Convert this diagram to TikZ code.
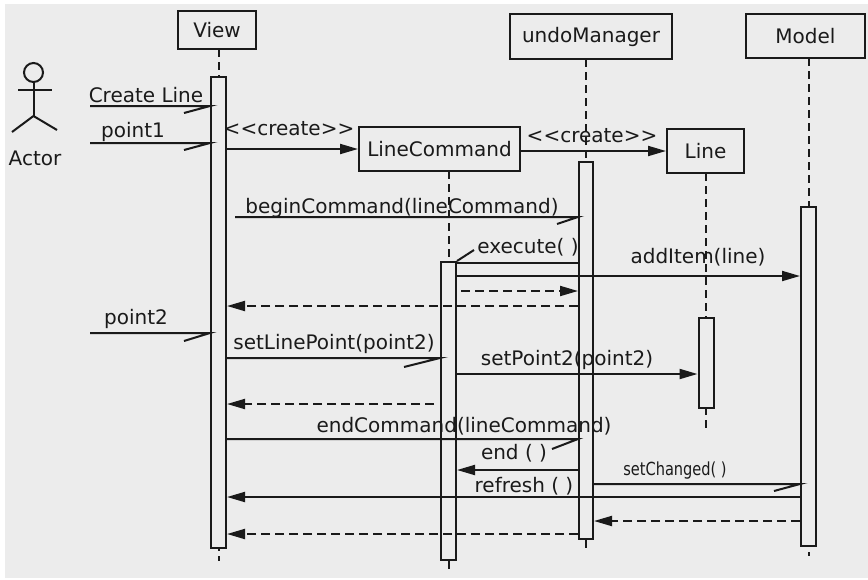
\documentclass[tikz,border=0pt]{standalone}
\usepackage{fontspec}
\setmainfont{DejaVu Sans}
\newfontfamily\condfont{DejaVu Sans Condensed}
\usetikzlibrary{arrows.meta}
\definecolor{bg}{HTML}{ECECEC}
\definecolor{ink}{HTML}{1A1A1A}
\begin{document}
\begin{tikzpicture}[x=1pt,y=-1pt,
  every node/.style={font=\fontsize{20}{22}\selectfont, text=ink, inner sep=0pt},
  objbox/.style={draw=ink, line width=2pt, fill=bg, inner sep=0pt},
  lifeline/.style={draw=ink, line width=2pt, dash pattern=on 8pt off 5pt},
  actbar/.style={draw=ink, line width=2pt, fill=bg},
  msg/.style={draw=ink, line width=2pt},
  call/.style={msg, -{Triangle[length=18pt,width=10pt]}},
  ret/.style={msg, dash pattern=on 9pt off 5pt, -{Triangle[length=18pt,width=10pt]}},
  lbl/.style={anchor=base},
  small/.style={anchor=base, xscale=0.9, font=\condfont\fontsize{18}{20}\selectfont}
]
\useasboundingbox (0,0) rectangle (868,579);
\fill[white] (0,0) rectangle (868,579);
\fill[bg] (5,4) rectangle (868,578);

% object boxes
\node[objbox, minimum width=78pt, minimum height=38pt] (view) at (217,30) {View};
\node[objbox, minimum width=162pt, minimum height=45pt] (undo) at (591,36.5) {undoManager};
\node[objbox, minimum width=119pt, minimum height=44pt] (model) at (805.5,36) {Model};
\node[objbox, minimum width=161pt, minimum height=44pt] (lc) at (439.5,149) {LineCommand};
\node[objbox, minimum width=77pt, minimum height=44pt] (line) at (705.5,151) {Line};

% lifeline coordinates
\coordinate (vT) at (218.5,49);   \coordinate (vE) at (218.5,561);
\coordinate (lcT) at (448.5,171); \coordinate (lcE) at (448.5,571);
\coordinate (uT) at (586,59);     \coordinate (uE) at (586,550);
\coordinate (lT) at (705.5,173);  \coordinate (lE) at (705.5,432);
\coordinate (mT) at (808.5,58);   \coordinate (mE) at (808.5,556);
\draw[lifeline] (vT) -- (vE);
\draw[lifeline] (lcT) -- (lcE);
\draw[lifeline] (uT) -- (uE);
\draw[lifeline] (lT) -- (lE);
\draw[lifeline] (mT) -- (mE);

% activation bars
\node[actbar, minimum width=15pt, minimum height=471pt, anchor=north] (vbar) at (218.5,76) {};
\node[actbar, minimum width=15pt, minimum height=298pt, anchor=north] (lcbar) at (448.5,261) {};
\node[actbar, minimum width=14pt, minimum height=377pt, anchor=north] (ubar) at (586,161) {};
\node[actbar, minimum width=15pt, minimum height=90pt, anchor=north] (lbar) at (706,317) {};
\node[actbar, minimum width=15pt, minimum height=339pt, anchor=north] (mbar) at (808.5,206) {};

% actor
\node[circle, draw=ink, line width=2pt, minimum size=19pt] (head) at (33.5,72.5) {};
\coordinate (armL) at (18,90); \coordinate (armR) at (52,90);
\coordinate (hip) at (33.5,116);
\coordinate (legL) at (12,132); \coordinate (legR) at (57,130);
\draw[msg] (armL) -- (armR);
\draw[msg] (head.south) -- (hip);
\draw[msg] (legL) -- (hip) -- (legR);
\node[lbl] (actorlbl) at (35,165) {Actor};

% free ends of found messages
\coordinate (a1) at (90,106);
\coordinate (a2) at (90,143);
\coordinate (a3) at (90,333);

% Create Line
\draw[msg] (a1) -- (vbar.west |- a1) -- ++(-26,7);
\node[lbl] (t1) at (146,102) {Create Line};
% point1
\draw[msg] (a2) -- (vbar.west |- a2) -- ++(-26,7);
\node[lbl] (t2) at (133,137) {point1};
% <<create>> LineCommand
\draw[call] (vbar.east |- lc.west) -- (lc.west);
\node[lbl] (t3) at (289,135) {<{}<create>{}>};
% <<create>> Line
\draw[call] (lc.east |- line.west) -- (line.west);
\node[lbl] (t4) at (592,142) {<{}<create>{}>};
% beginCommand
\coordinate (y5) at (0,217);
\draw[msg] (235,217) coordinate (b5) -- (ubar.west |- y5) -- ++(-21,7);
\node[lbl] (t5) at (402,213) {beginCommand(lineCommand)};
% execute
\coordinate (y6) at (0,263);
\draw[msg] (ubar.west |- y6) -- (lcbar.east |- y6);
\draw[msg] (lcbar.north east) -- ++(17,-11);
\node[lbl] (t6) at (528,253) {execute( )};
% addItem
\coordinate (y7) at (0,276);
\draw[call] (lcbar.east |- y7) -- (mbar.west |- y7);
\node[lbl] (t7) at (698,263) {addItem(line)};
% dashed to undoManager
\coordinate (y8) at (461,291);
\draw[ret] (y8) -- (ubar.west |- y8);
% return to View
\coordinate (y9) at (0,306);
\draw[ret] (ubar.west |- y9) -- (vbar.east |- y9);
% point2
\draw[msg] (a3) -- (vbar.west |- a3) -- ++(-26,8);
\node[lbl] (t10) at (136,324) {point2};
% setLinePoint
\coordinate (y11) at (0,358);
\draw[msg] (vbar.east |- y11) -- (lcbar.west |- y11) -- ++(-36,9);
\node[lbl] (t11) at (334,349) {setLinePoint(point2)};
% setPoint2
\coordinate (y12) at (0,374);
\draw[call] (lcbar.east |- y12) -- (lbar.west |- y12);
\node[lbl] (t12) at (567,365) {setPoint2(point2)};
% return
\coordinate (y13) at (434,404);
\draw[ret] (y13) -- (vbar.east |- y13);
% endCommand
\coordinate (y14) at (0,439);
\draw[msg] (vbar.east |- y14) -- (ubar.west |- y14) -- ++(-26,10);
\node[lbl] (t14) at (464,432) {endCommand(lineCommand)};
% end
\coordinate (y15) at (0,470);
\draw[call] (ubar.west |- y15) -- (lcbar.east |- y15);
\node[lbl] (t15) at (514,459) {end ( )};
% setChanged
\coordinate (y16) at (0,484);
\draw[msg] (ubar.east |- y16) -- (mbar.west |- y16) -- ++(-26,7);
\node[small] (t16) at (675,475) {setChanged( )};
% refresh
\coordinate (y17) at (0,497);
\draw[call] (mbar.west |- y17) -- (vbar.east |- y17);
\node[lbl] (t17) at (524,492) {refresh ( )};
% return model -> undo
\coordinate (y18) at (0,521);
\draw[ret] (mbar.west |- y18) -- (ubar.east |- y18);
% return undo -> view
\coordinate (y19) at (0,534);
\draw[ret] (ubar.west |- y19) -- (vbar.east |- y19);
\end{tikzpicture}
\end{document}
